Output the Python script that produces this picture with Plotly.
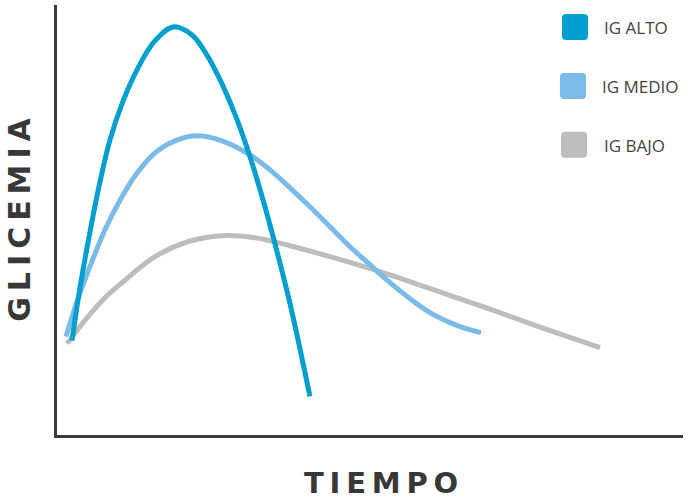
import plotly.graph_objects as go

# Series (x = time, y = glycemia level, arbitrary units)
alto_x = [72, 80, 90, 100, 110, 122, 137, 154, 173, 192, 208, 222, 236, 250, 263, 276, 290, 310]
alto_y = [96, 149, 205, 255, 297, 333, 367, 395, 410, 402, 380, 353, 320, 280, 237, 189, 133, 40]

medio_x = [66, 76, 88, 105, 122, 138, 155, 175, 197, 222, 250, 270, 290, 310, 330, 350, 370, 390, 410, 430, 450, 466, 481]
medio_y = [100, 132, 165, 207, 240, 265, 284, 296, 301, 296, 282, 267, 249, 230, 210, 190, 172, 154, 138, 124, 114, 108, 104]

bajo_x = [67, 88, 105, 122, 155, 188, 222, 255, 290, 330, 380, 433, 483, 533, 600]
bajo_y = [93, 120, 139, 154, 180, 195, 201, 199, 191, 180, 165, 147, 130, 112, 89]

labels = ["IG ALTO", "IG MEDIO", "IG BAJO"]
colors = ["#009fcf", "#7bbbe8", "#bdbdbd"]

fig = go.Figure()
for xs, ys, name, c in [(bajo_x, bajo_y, labels[2], colors[2]),
                        (medio_x, medio_y, labels[1], colors[1]),
                        (alto_x, alto_y, labels[0], colors[0])]:
    fig.add_trace(go.Scatter(x=xs, y=ys, mode="lines", name=name,
                             line=dict(color=c, width=5, shape="spline", smoothing=1.0),
                             hoverinfo="skip"))

def rounded(x0, y0, x1, y1, r):
    return (f"M {x0+r},{y0} L {x1-r},{y0} Q {x1},{y0} {x1},{y0+r} "
            f"L {x1},{y1-r} Q {x1},{y1} {x1-r},{y1} L {x0+r},{y1} "
            f"Q {x0},{y1} {x0},{y1-r} L {x0},{y0+r} Q {x0},{y0} {x0+r},{y0} Z")

legend_boxes = [(562, 397), (560, 338), (561, 279)]
legend_text = [(602, 409), (600, 350), (602, 291)]
shapes = []
annotations = []
for (bx, by), (tx, ty), lab, c in zip(legend_boxes, legend_text, labels, colors):
    shapes.append(dict(type="path", path=rounded(bx, by, bx + 26, by + 26, 4),
                       xref="x", yref="y", fillcolor=c, line=dict(width=0)))
    annotations.append(dict(x=tx, y=ty, xref="x", yref="y", text=lab, showarrow=False,
                            xanchor="left", yanchor="middle",
                            font=dict(family="Open Sans", size=17, color="#444444")))

L, B, T = 57, 66.5, 5
PW, PH = 690 - 7 - L, 502 - B - T
sp = "\u2009"
annotations.append(dict(x=(20 - L) / PW, xref="paper", y=(437 - 220 - 1.5) / PH, yref="paper",
                        text=sp.join("GLICEMIA"), textangle=-90, showarrow=False,
                        xanchor="center", yanchor="middle",
                        font=dict(family="DejaVu Sans", size=30, color="#383838", weight="bold")))
annotations.append(dict(x=(381 - L) / PW, xref="paper", y=(437 - 484 - 1.5) / PH, yref="paper",
                        text=sp.join("TIEMPO"), showarrow=False,
                        xanchor="center", yanchor="middle",
                        font=dict(family="DejaVu Sans", size=29, color="#383838", weight="bold")))

fig.update_layout(
    width=690, height=502,
    margin=dict(l=L, r=7, t=T, b=B),
    paper_bgcolor="white", plot_bgcolor="white",
    showlegend=False,
    shapes=shapes, annotations=annotations,
    xaxis=dict(range=[L, 683], showgrid=False, zeroline=False, showticklabels=False,
               ticks="", showline=True, linecolor="#3a3a3a", linewidth=3),
    yaxis=dict(range=[1.5, 432], showgrid=False, zeroline=False, showticklabels=False,
               ticks="", showline=True, linecolor="#3a3a3a", linewidth=3),
)

fig.write_html("out.html", config={"displayModeBar": False},
               post_script="document.body.style.margin='0';")
